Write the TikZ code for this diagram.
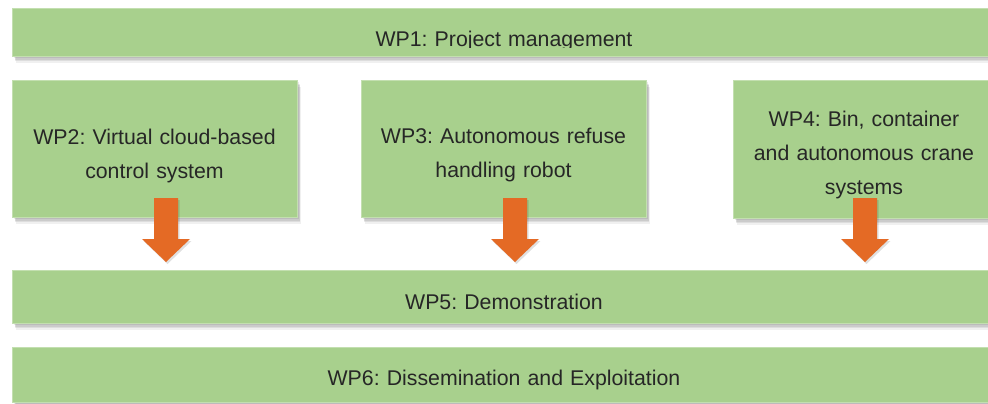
\documentclass[tikz,border=0pt]{standalone}
\usepackage{fontspec}
\setmainfont{Liberation Sans}
\frenchspacing
\usetikzlibrary{calc}
\definecolor{wpgreen}{HTML}{A8D08D}
\definecolor{wpedge}{HTML}{C3DFB0}
\definecolor{wporange}{HTML}{E46A25}
\definecolor{wptext}{HTML}{262626}
\tikzset{
  wpbox/.style={rectangle, anchor=north west, inner sep=0pt, draw=wpedge, line width=1.2pt, fill=wpgreen,
    preaction={draw=none, fill=black, opacity=0.08, transform canvas={xshift=1pt,yshift=-1.5pt}},
    preaction={draw=none, fill=black, opacity=0.08, transform canvas={xshift=2pt,yshift=-3pt}},
    preaction={draw=none, fill=black, opacity=0.08, transform canvas={xshift=2.5pt,yshift=-4.5pt}},
    preaction={draw=none, fill=black, opacity=0.06, transform canvas={xshift=3pt,yshift=-6pt}}},
  wptxt/.style={text=wptext, font=\fontsize{21.3}{34}\selectfont\frenchspacing, align=center, anchor=base, inner sep=0pt, text width=#1},
  wparrow/.style={fill=wporange,
    preaction={fill=black, opacity=0.12, transform canvas={xshift=1.5pt,yshift=-2pt}}},
}
\begin{document}
\begin{tikzpicture}[x=1pt,y=-1pt]
\clip (0,0) rectangle (988,404);
\fill[white] (0,0) rectangle (988,404);
% boxes
\node[wpbox, minimum width=984pt, minimum height=48pt] (wp1) at (12,8) {};
\node[wpbox, minimum width=285pt, minimum height=137pt] (wp2) at (12,80) {};
\node[wpbox, minimum width=285pt, minimum height=137pt] (wp3) at (361,80) {};
\node[wpbox, minimum width=263pt, minimum height=138pt] (wp4) at (733,80) {};
\node[wpbox, minimum width=984pt, minimum height=53pt] (wp5) at (12,270) {};
\node[wpbox, minimum width=984pt, minimum height=55pt] (wp6) at (12,347) {};
% texts
\begin{scope}
  \clip (12,8) rectangle (996,48);
  \node[wptxt=900pt] (wp1t) at (504,47) {WP1: Project management};
\end{scope}
\node[wptxt=280pt] (wp2t) at (154.5,144) {WP2: Virtual cloud-based\\control system};
\node[wptxt=280pt] (wp3t) at (503.5,143) {WP3: Autonomous refuse\\handling robot};
\node[wptxt=260pt] (wp4t) at (864,126) {WP4: Bin, container\\and autonomous crane\\systems};
\node[wptxt=900pt] (wp5t) at (504,309) {WP5: Demonstration};
\node[wptxt=900pt] (wp6t) at (504,385) {WP6: Dissemination and Exploitation};
% block arrows from the boxes down to WP5
\coordinate (a2) at (166,198);
\coordinate (a3) at (515,198);
\coordinate (a4) at (865,198);
\foreach \a in {a2,a3,a4}{
  \fill[wparrow] (\a) ++(-12,0) -- ++(24,0) -- ++(0,41) -- ++(12,0) -- ++(-24,23) -- ++(-24,-23) -- ++(12,0) -- cycle;
}
\end{tikzpicture}
\end{document}
